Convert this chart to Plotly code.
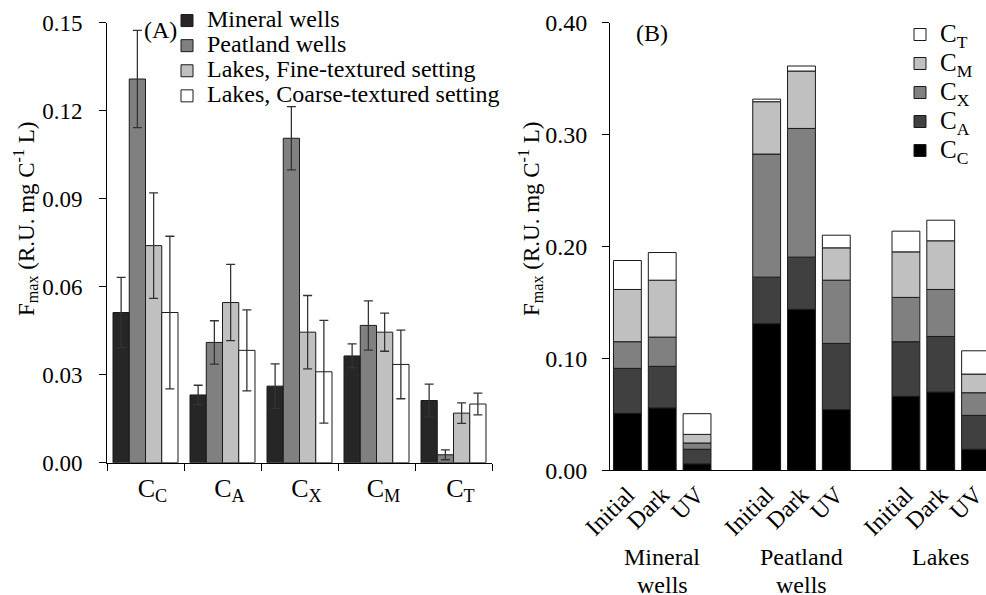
import numpy as np
import plotly.graph_objects as go

# ---------------- Panel A data ----------------
components = ["C<sub>C</sub>", "C<sub>A</sub>", "C<sub>X</sub>", "C<sub>M</sub>", "C<sub>T</sub>"]
site_names = ["Mineral wells", "Peatland wells",
              "Lakes, Fine-textured setting", "Lakes, Coarse-textured setting"]
mineral = [0.0512, 0.0231, 0.0261, 0.0364, 0.0212]
mineral_err = [0.0120, 0.0033, 0.0076, 0.0041, 0.0056]
peatland = [0.1308, 0.0410, 0.1106, 0.0468, 0.0027]
peatland_err = [0.0166, 0.0074, 0.0108, 0.0084, 0.0017]
lakes_fine = [0.0740, 0.0546, 0.0445, 0.0445, 0.0169]
lakes_fine_err = [0.0180, 0.0130, 0.0125, 0.0065, 0.0035]
lakes_coarse = [0.0512, 0.0383, 0.0310, 0.0335, 0.0200]
lakes_coarse_err = [0.0260, 0.0138, 0.0175, 0.0117, 0.0037]
site_colors = ["#262626", "#808080", "#c0c0c0", "#ffffff"]

# ---------------- Panel B data ----------------
treatments = ["Initial", "Dark", "UV"]
groups = [["Mineral", "wells"], ["Peatland", "wells"], ["Lakes"]]
# order: Mineral (Initial, Dark, UV), Peatland (...), Lakes (...)
cc = [0.0509, 0.0557, 0.0057, 0.1310, 0.1438, 0.0542, 0.0661, 0.0699, 0.0188]
ca = [0.0402, 0.0372, 0.0131, 0.0416, 0.0467, 0.0592, 0.0488, 0.0497, 0.0303]
cx = [0.0238, 0.0261, 0.0056, 0.1100, 0.1150, 0.0565, 0.0396, 0.0420, 0.0202]
cm = [0.0467, 0.0509, 0.0077, 0.0468, 0.0513, 0.0289, 0.0407, 0.0435, 0.0167]
ct = [0.0259, 0.0247, 0.0185, 0.0023, 0.0045, 0.0113, 0.0185, 0.0184, 0.0208]
stack_names = ["C<sub>C</sub>", "C<sub>A</sub>", "C<sub>X</sub>", "C<sub>M</sub>", "C<sub>T</sub>"]
stack_colors = ["#000000", "#404040", "#808080", "#c0c0c0", "#ffffff"]

FONT = "Liberation Serif"
W, H = 986, 595


def px(x):
    return x / W


def py(y):
    return (H - y) / H


def big(text, size):
    return f'<span style="font-size:{size}px">{text}</span>'


fig = go.Figure()

# Panel A: grouped bars with error bars
for name, vals, errs, col in zip(site_names,
                                 [mineral, peatland, lakes_fine, lakes_coarse],
                                 [mineral_err, peatland_err, lakes_fine_err, lakes_coarse_err],
                                 site_colors):
    fig.add_trace(go.Bar(
        x=components, y=vals, name=big(name, 24),
        marker=dict(color=col, line=dict(color="#1a1a1a", width=1)),
        error_y=dict(type="data", array=errs, color="#333333", thickness=1.3, width=4.5),
        xaxis="x", yaxis="y", legend="legend",
    ))

# Panel B: stacked bars (single offset group, explicit base)
n_t = len(treatments)
x_pos = [g * (n_t + 1) + t for g in range(len(groups)) for t in range(n_t)]
tick_text = [treatments[t] for g in range(len(groups)) for t in range(n_t)]
layers = [cc, ca, cx, cm, ct]
base = np.zeros(len(x_pos))
for name, vals, col in zip(stack_names, layers, stack_colors):
    vals = np.array(vals)
    fig.add_trace(go.Bar(
        x=x_pos, y=vals, base=base.copy(), name=big(name, 25),
        offsetgroup="stack", width=0.8,
        marker=dict(color=col, line=dict(color="#1a1a1a", width=1)),
        xaxis="x2", yaxis="y2", legend="legend2",
    ))
    base = base + vals

axis_common = dict(showline=True, linecolor="black", linewidth=1, showgrid=False,
                   zeroline=False, automargin=False,
                   ticks="outside", ticklen=7, tickcolor="black", tickwidth=1)

fig.update_layout(
    template="none",
    width=W, height=H,
    margin=dict(l=0, r=0, t=0, b=0, autoexpand=False),
    paper_bgcolor="white", plot_bgcolor="white",
    barmode="group", bargap=0.156, bargroupgap=0,
    font=dict(family=FONT, size=24, color="black"),
    xaxis=dict(axis_common, domain=[px(107), px(492)], range=[-0.5, 4.5],
               tickson="boundaries", anchor="y", ticklabelshift=7,
               ticklabelstandoff=2,
               tickfont=dict(family=FONT, size=26, color="black")),
    yaxis=dict(axis_common, domain=[py(462.7), py(22.7)], range=[0, 0.15],
               tickvals=[0, 0.03, 0.06, 0.09, 0.12, 0.15], tickformat=".2f",
               ticklabelstandoff=12, anchor="x",
               tickfont=dict(family=FONT, size=23, color="black")),
    xaxis2=dict(axis_common, domain=[px(610), 1.0], range=[-0.5, 10.3],
                tickvals=x_pos, ticktext=tick_text, tickangle=-45, ticks="",
                ticklabeloverflow="allow", anchor="y2",
                tickfont=dict(family=FONT, size=24, color="black")),
    yaxis2=dict(axis_common, domain=[py(470.3), py(22.7)], range=[0, 0.40],
                tickvals=[0, 0.1, 0.2, 0.3, 0.4], tickformat=".2f",
                ticklabelstandoff=10, anchor="x2",
                tickfont=dict(family=FONT, size=24, color="black")),
    legend=dict(x=px(167), y=py(3), xanchor="left", yanchor="top",
                font=dict(family=FONT, size=17, color="black"),
                bgcolor="rgba(0,0,0,0)", borderwidth=0, itemwidth=30, tracegroupgap=0),
    legend2=dict(x=px(900), y=py(15), xanchor="left", yanchor="top",
                 font=dict(family=FONT, size=20, color="black"),
                 bgcolor="rgba(0,0,0,0)", borderwidth=0, itemwidth=30,
                 traceorder="reversed", tracegroupgap=0),
    showlegend=True,
)

annotations = [
    dict(text="(A)", x=px(160), y=py(30), xref="paper", yref="paper",
         xanchor="center", yanchor="middle", showarrow=False, font=dict(size=24)),
    dict(text="(B)", x=px(652), y=py(33), xref="paper", yref="paper",
         xanchor="center", yanchor="middle", showarrow=False, font=dict(size=24)),
    dict(text="F<sub>max</sub> (R.U. mg C<sup>-1</sup> L)", x=px(25), y=py(219),
         xref="paper", yref="paper", textangle=-90, showarrow=False,
         xanchor="center", yanchor="middle", font=dict(size=23)),
    dict(text="F<sub>max</sub> (R.U. mg C<sup>-1</sup> L)", x=px(530), y=py(219),
         xref="paper", yref="paper", textangle=-90, showarrow=False,
         xanchor="center", yanchor="middle", font=dict(size=23)),
]
for g, lines in enumerate(groups):
    for i, line in enumerate(lines):
        annotations.append(dict(text=line, x=g * (n_t + 1) + 1, xref="x2",
                                y=py(557 + 28 * i), yref="paper",
                                xanchor="center", yanchor="middle",
                                showarrow=False, font=dict(size=24)))
fig.update_layout(annotations=annotations)

fig.write_html("out.html")
